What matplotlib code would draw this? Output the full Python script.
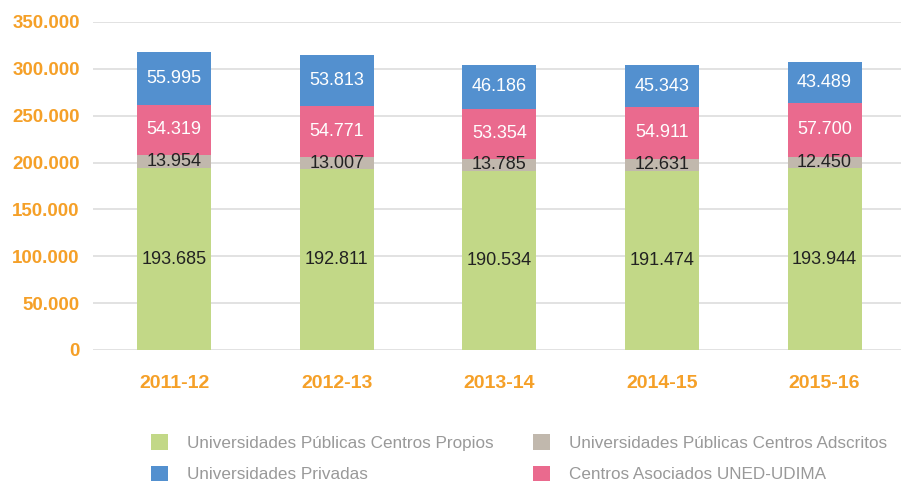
import matplotlib
matplotlib.use('Agg')
import matplotlib.pyplot as plt
import numpy as np

# Data
years = ['2011-12', '2012-13', '2013-14', '2014-15', '2015-16']
propios = [193685, 192811, 190534, 191474, 193944]
adscritos = [13954, 13007, 13785, 12631, 12450]
uned = [54319, 54771, 53354, 54911, 57700]
privadas = [55995, 53813, 46186, 45343, 43489]

series = [
    ('Universidades Públicas Centros Propios', propios, '#c2d887', '#222222'),
    ('Universidades Públicas Centros Adscritos', adscritos, '#c1b8ad', '#222222'),
    ('Centros Asociados UNED-UDIMA', uned, '#ea6a8e', 'white'),
    ('Universidades Privadas', privadas, '#5390cf', 'white'),
]

font = 'Liberation Sans'
orange = '#f5a028'

fig = plt.figure(figsize=(9.01, 4.82), dpi=100)
ax = fig.add_axes([93 / 901, 1 - 350 / 482, 808 / 901, 328 / 482])

x = np.arange(len(years))
bottom = np.zeros(len(years))
handles = {}
for name, vals, color, tcolor in series:
    vals = np.array(vals, dtype=float)
    bars = ax.bar(x, vals, width=0.455, bottom=bottom, color=color, zorder=2)
    handles[name] = bars
    for xi, b, v in zip(x, bottom, vals):
        ax.text(xi, b + v / 2, f'{int(v):,}'.replace(',', '.'), ha='center', va='center',
                fontsize=13, color=tcolor, family=font, zorder=3)
    bottom += vals

ax.set_xlim(-0.5, 4.47)
ax.set_ylim(0, 350000)
ax.set_yticks(np.arange(0, 350001, 50000))
ax.set_yticklabels(['0'] + [f'{v:,}'.replace(',', '.') for v in range(50000, 350001, 50000)])
ax.set_xticks(x)
ax.set_xticklabels(years)
for lab in ax.get_yticklabels():
    lab.set_color(orange)
    lab.set_fontweight('bold')
    lab.set_fontsize(13.5)
    lab.set_family(font)
for lab in ax.get_xticklabels():
    lab.set_color(orange)
    lab.set_fontweight('bold')
    lab.set_fontsize(14)
    lab.set_family(font)
ax.tick_params(axis='both', length=0)
ax.tick_params(axis='y', pad=9.5)
ax.tick_params(axis='x', pad=18)
ax.grid(axis='y', color='#dddddd', linewidth=1.2, zorder=0)
for s in ax.spines.values():
    s.set_visible(False)

order = ['Universidades Públicas Centros Propios', 'Universidades Privadas',
         'Universidades Públicas Centros Adscritos', 'Centros Asociados UNED-UDIMA']
leg = fig.legend([handles[n] for n in order], order, ncol=2, loc='upper left',
                 bbox_to_anchor=(136 / 901, 1 - 419 / 482), frameon=False,
                 prop={'family': font, 'size': 12.3}, handlelength=1.0, handleheight=1.0,
                 columnspacing=2.3, labelspacing=0.87, handletextpad=1.1)
for t in leg.get_texts():
    t.set_color('#999999')

fig.savefig('out.png', dpi=100, facecolor='white')
